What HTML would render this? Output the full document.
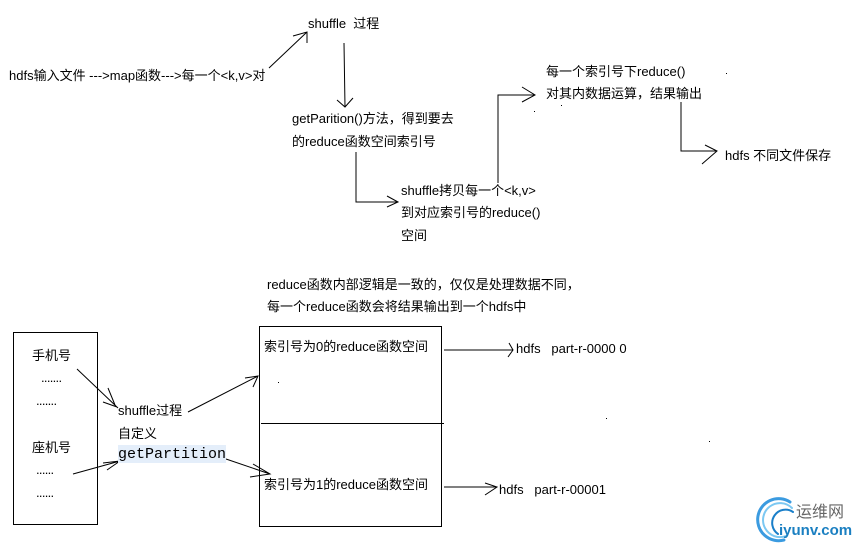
<!DOCTYPE html>
<html><head><meta charset="utf-8">
<style>
html,body{margin:0;padding:0;background:#fff;}
#c{position:relative;width:859px;height:547px;overflow:hidden;background:#fff;
font-family:"Liberation Sans","Noto Sans CJK SC",sans-serif;font-size:13px;color:#000;}
.t{position:absolute;white-space:pre;line-height:16px;height:16px;}
.d{letter-spacing:-0.7px;}
svg{position:absolute;left:0;top:0;}
</style></head><body>
<div id="c">
<svg width="859" height="547" viewBox="0 0 859 547">
<g stroke="#000" stroke-width="1" fill="none">
<!-- top arrows -->
<path d="M269 68 L307 32 M293 36 L307 32 L307 43"/>
<path d="M344 43 L345 107 M337 100 L345 107 L353 98"/>
<path d="M356 152 L356 202 L398 202 M387 196 L398 202 L387 207"/>
<path d="M498 183 L498 95 L535 95 M522 87 L535 95 L522 102"/>
<path d="M681 102 L681 151 L717 151 M705 145 L717 151 L702 164"/>
<!-- bottom -->
<rect x="13.5" y="332.5" width="84" height="192"/>
<path d="M77 369 L118 408 M108 388 L115 405 M103 402 L117 407"/>
<path d="M73 474 L120 461 M103 463 L120 461 M107 470 L120 461"/>
<path d="M188 412 L258 376 M245 378 L258 376 L253 387"/>
<path d="M226 459 L270 474 M253 464 L270 474 L250 477"/>
<rect x="259.5" y="326.5" width="182" height="200"/>
<path d="M261 423.5 L444 423.5"/>
<path d="M444 350 L513 350 M509 343 L513 350 L508 357"/>
<path d="M444 487 L497 487 M485 483 L497 487 L485 495"/>
</g>
<g fill="#000">
<rect x="726" y="73" width="1" height="1"/>
<rect x="561" y="105" width="1" height="1"/>
<rect x="534" y="111" width="1" height="1"/>
<rect x="278" y="382" width="1" height="1"/>
<rect x="606" y="418" width="1" height="1"/>
<rect x="709" y="441" width="1" height="1"/>
</g>
<!-- logo arcs -->
<g fill="none" stroke-linecap="round">
<path d="M790 502 A21 21 0 1 0 784 540" stroke="#3b9be0" stroke-width="3"/>
<path d="M792 508 A17 17 0 1 0 786 536" stroke="#7cc8f2" stroke-width="2"/>
<path d="M793 512 A13 13 0 0 0 778 534" stroke="#1a7fc9" stroke-width="2"/>
</g>
</svg>

<div class="t" style="left:308px;top:16px;">shuffle  过程</div>
<div class="t" style="left:9px;top:68px;">hdfs输入文件 ---&gt;map函数---&gt;每一个&lt;k,v&gt;对</div>
<div class="t" style="left:292px;top:111px;">getParition()方法，得到要去</div>
<div class="t" style="left:292px;top:134px;">的reduce函数空间索引号</div>
<div class="t" style="left:401px;top:183px;">shuffle拷贝每一个&lt;k,v&gt;</div>
<div class="t" style="left:401px;top:205px;">到对应索引号的reduce()</div>
<div class="t" style="left:401px;top:228px;">空间</div>
<div class="t" style="left:546px;top:64px;">每一个索引号下reduce()</div>
<div class="t" style="left:546px;top:86px;">对其内数据运算，结果输出</div>
<div class="t" style="left:725px;top:148px;">hdfs 不同文件保存</div>
<div class="t" style="left:267px;top:277px;">reduce函数内部逻辑是一致的，仅仅是处理数据不同，</div>
<div class="t" style="left:267px;top:299px;">每一个reduce函数会将结果输出到一个hdfs中</div>

<div class="t" style="left:32px;top:348px;">手机号</div>
<div class="t d" style="left:41px;top:370px;">.......</div>
<div class="t d" style="left:36px;top:393px;">.......</div>
<div class="t" style="left:32px;top:440px;">座机号</div>
<div class="t d" style="left:36px;top:462px;">......</div>
<div class="t d" style="left:36px;top:485px;">......</div>

<div class="t" style="left:118px;top:403px;">shuffle过程</div>
<div class="t" style="left:118px;top:426px;">自定义</div>
<div style="position:absolute;left:118px;top:445px;width:108px;height:18px;background:#e4eefa;"></div>
<div class="t" style="left:118px;top:446px;font-family:'Liberation Mono',monospace;font-size:15px;line-height:18px;height:18px;">getPartition</div>

<div class="t" style="left:264px;top:339px;">索引号为0的reduce函数空间</div>
<div class="t" style="left:264px;top:477px;">索引号为1的reduce函数空间</div>
<div class="t" style="left:516px;top:341px;">hdfs   part-r-0000 0</div>
<div class="t" style="left:499px;top:482px;">hdfs   part-r-00001</div>

<div class="t" style="left:796px;top:504px;font-size:16px;line-height:18px;height:18px;color:#666;">运维网</div>
<div class="t" style="left:779px;top:522px;font-size:15px;line-height:18px;height:18px;font-weight:bold;color:#1a7fc1;">iyunv.com</div>
</div>
</body></html>
